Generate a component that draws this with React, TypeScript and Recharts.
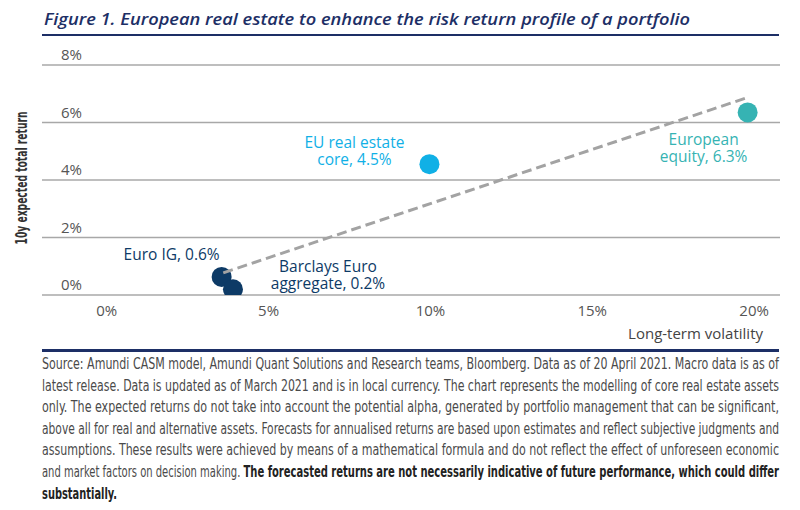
import React from "react";
import { ScatterChart, Scatter, XAxis, YAxis, CartesianGrid } from "recharts";

// ---- data ----
const assetNames = ["Euro IG", "Barclays Euro aggregate", "EU real estate core", "European equity"];
const volatility = [3.55, 3.9, 9.97, 19.8];
const expectedReturn = [0.63, 0.2, 4.55, 6.35];
const labelLines = [
  ["Euro IG, 0.6%"],
  ["Barclays Euro", "aggregate, 0.2%"],
  ["EU real estate", "core, 4.5%"],
  ["European", "equity, 6.3%"],
];
const trendX = [3.6, 19.8];
const trendY = [0.77, 6.87];
const xTicks = [0, 5, 10, 15, 20];
const yTicks = [0, 2, 4, 6, 8];

const titleText = "Figure 1. European real estate to enhance the risk return profile of a portfolio";
const yAxisTitle = "10y expected total return";
const xAxisTitle = "Long-term volatility";
const footLines = [
  "Source: Amundi CASM model, Amundi Quant Solutions and Research teams, Bloomberg. Data as of 20 April 2021. Macro data is as of",
  "latest release. Data is updated as of March 2021 and is in local currency. The chart represents the modelling of core real estate assets",
  "only. The expected returns do not take into account the potential alpha, generated by portfolio management that can be significant,",
  "above all for real and alternative assets. Forecasts for annualised returns are based upon estimates and reflect subjective judgments and",
  "assumptions. These results were achieved by means of a mathematical formula and do not reflect the effect of unforeseen economic",
];
const footLine6Normal = "and market factors on decision making. ";
const footLine6Bold = "The forecasted returns are not necessarily indicative of future performance, which could differ";
const footLine7Bold = "substantially.";

// ---- styles ----
const colors = ["#0d3a66", "#0d3a66", "#10b0e6", "#36b3b3"];
const labelStyle = [
  { dx: -50, dy: -17 },
  { dx: 95, dy: -17 },
  { dx: -75, dy: -16 },
  { dx: -44, dy: 33 },
];
const FONT = "'Open Sans', 'Noto Sans', sans-serif";
const COND = "'Liberation Sans Narrow', 'DejaVu Sans Condensed', sans-serif";

const series = assetNames.map((name, i) => ({
  name,
  data: [{ x: volatility[i], y: expectedReturn[i], idx: i }],
}));
const trendData = trendX.map((x, i) => ({ x, y: trendY[i] }));

const Dot = (props: any) => {
  const { cx, cy, payload } = props;
  const i = payload.idx;
  const st = labelStyle[i];
  const lines = labelLines[i];
  return (
    <g>
      <circle cx={cx} cy={cy} r={10} fill={colors[i]} />
      <text
        x={cx + st.dx}
        y={cy + st.dy}
        textAnchor="middle"
        fill={colors[i]}
        fontSize={15.5}
        fontFamily={FONT}
      >
        {lines.map((l, k) => (
          <tspan key={k} x={cx + st.dx} dy={k === 0 ? 0 : 17}>
            {l}
          </tspan>
        ))}
      </text>
    </g>
  );
};

const XTick = (props: any) => {
  const { x, y, payload } = props;
  return (
    <text x={x} y={y + 13} textAnchor="middle" fill="#555" fontSize={15} fontFamily={FONT}>
      {`${payload.value}%`}
    </text>
  );
};

const YTick = (props: any) => {
  const { y, payload } = props;
  return (
    <text x={61} y={y - 5} textAnchor="start" fill="#555" fontSize={15} fontFamily={FONT}>
      {`${payload.value}%`}
    </text>
  );
};

export default function App() {
  return (
    <div style={{ position: "absolute", left: 0, top: 0, width: 800, height: 510, background: "#fff" }}>
      <ScatterChart width={800} height={510} margin={{ top: 65, right: 20, bottom: 185, left: 12 }}>
        <CartesianGrid vertical={false} stroke="#a8a8a8" strokeWidth={1.5} />
        <XAxis
          type="number"
          dataKey="x"
          domain={[-2, 20.8]}
          ticks={xTicks}
          axisLine={false}
          tickLine={false}
          height={30}
          tick={<XTick />}
          allowDataOverflow
        />
        <YAxis
          type="number"
          dataKey="y"
          domain={[0, 8]}
          ticks={yTicks}
          axisLine={false}
          tickLine={false}
          width={30}
          tick={<YTick />}
          interval={0}
          allowDataOverflow
        />
        {series.map((s, i) => (
          <Scatter key={s.name} name={s.name} data={s.data} fill={colors[i]} shape={<Dot />} isAnimationActive={false} />
        ))}
        <Scatter
          name="trend"
          data={trendData}
          line={{ stroke: "#a3a3a3", strokeWidth: 3, strokeDasharray: "10 5" }}
          shape={() => <g />}
          isAnimationActive={false}
        />
      </ScatterChart>
      <svg
        width={800}
        height={510}
        style={{ position: "absolute", left: 0, top: 0, pointerEvents: "none" }}
      >
        <text
          x={44}
          y={25}
          fontSize={17}
          fontStyle="italic"
          fontWeight={600}
          fill="#1d2f66"
          fontFamily={FONT}
          textLength={646}
          lengthAdjust="spacingAndGlyphs"
        >
          {titleText}
        </text>
        <rect x={42} y={34} width={737} height={2} fill="#1d2f66" />
        <text
          transform="translate(27,178) rotate(-90)"
          textAnchor="middle"
          fontSize={15}
          fontWeight={700}
          fill="#333"
          fontFamily={COND}
          textLength={133}
          lengthAdjust="spacingAndGlyphs"
        >
          {yAxisTitle}
        </text>
        <text x={763} y={339} textAnchor="end" fontSize={15} fill="#444" fontFamily={FONT}>
          {xAxisTitle}
        </text>
        <rect x={42} y={349} width={737} height={3} fill="#1d2f66" />
        {footLines.map((l, i) => (
          <text
            key={i}
            x={42}
            y={369 + i * 21.6}
            fontSize={16}
            fill="#4a4a4a"
            fontFamily={COND}
            textLength={737}
            lengthAdjust="spacingAndGlyphs"
          >
            {l}
          </text>
        ))}
        <text
          x={42}
          y={369 + 5 * 21.6}
          fontSize={16}
          fill="#4a4a4a"
          fontFamily={COND}
          textLength={737}
          lengthAdjust="spacingAndGlyphs"
        >
          <tspan>{footLine6Normal}</tspan>
          <tspan fontWeight={700} fill="#222">
            {footLine6Bold}
          </tspan>
        </text>
        <text
          x={42}
          y={369 + 6 * 21.6}
          fontSize={16}
          fontWeight={700}
          fill="#222"
          fontFamily={COND}
          textLength={75}
          lengthAdjust="spacingAndGlyphs"
        >
          {footLine7Bold}
        </text>
      </svg>
    </div>
  );
}
